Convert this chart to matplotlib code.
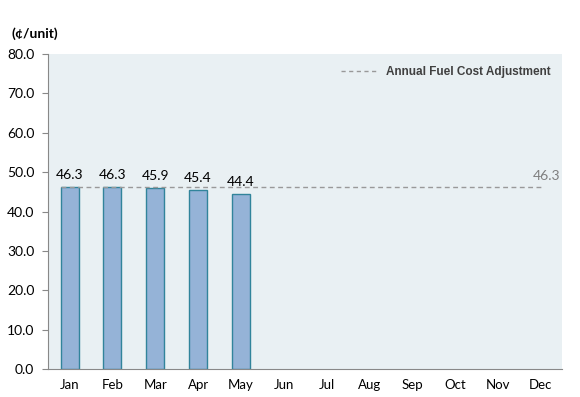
import numpy as np
import matplotlib.pyplot as plt
from matplotlib.lines import Line2D

# Data
months = ["Jan", "Feb", "Mar", "Apr", "May", "Jun", "Jul", "Aug", "Sep", "Oct", "Nov", "Dec"]
costs = [46.3, 46.3, 45.9, 45.4, 44.4]
annual_adj = 46.3

plt.rcParams['font.family'] = ['Lato', 'DejaVu Sans']

fig = plt.figure(figsize=(5.8, 3.97), dpi=100)
ax = fig.add_axes([0.083, 0.0705, 0.886, 0.7935])
ax.set_facecolor('#E9F0F3')

x = np.arange(len(costs))
ax.bar(x, costs, width=0.42, color='#95B3D7', edgecolor='#31849B', linewidth=1.0, zorder=2)
for xi, v in zip(x, costs):
    ax.text(xi, v + 1.5, f"{v:.1f}", ha='center', va='bottom', fontsize=10, color='black')

# annual adjustment line
ax.plot([-0.21, 11], [annual_adj, annual_adj], ls=(0, (3.5, 2.5)), color='#999999', lw=1.0, zorder=3)
ax.text(11.45, annual_adj + 1.2, f"{annual_adj:.1f}", ha='right', va='bottom', fontsize=10, color='#7F7F7F')

ax.set_xlim(-0.5, 11.5)
ax.set_ylim(0, 80)
ax.set_xticks(np.arange(len(months)))
ax.set_xticklabels(months, fontsize=9.5)
ax.set_yticks(np.arange(0, 81, 10))
ax.set_yticklabels([f"{v:.1f}" for v in np.arange(0, 81, 10)], fontsize=10)
ax.tick_params(axis='x', length=0, pad=7)
ax.tick_params(axis='y', length=4, color='#888888', pad=6)
for s in ['top', 'right']:
    ax.spines[s].set_visible(False)
ax.spines['left'].set_color('#888888')
ax.spines['bottom'].set_color('#888888')

handle = Line2D([], [], ls=(0, (3, 2.5)), color='#999999', lw=1.0)
leg = ax.legend([handle], ["Annual Fuel Cost Adjustment"], loc='upper right', frameon=False,
                handlelength=3.0, handletextpad=0.8, borderaxespad=0.6,
                prop={'family': ['Liberation Sans Narrow', 'Liberation Sans'], 'weight': 'bold', 'size': 8.5})
for t in leg.get_texts():
    t.set_color('#404040')

fig.text(0.02, 0.915, "(¢/unit)", fontsize=10, fontweight='bold', ha='left', va='center')

fig.savefig("out.png", dpi=100)
